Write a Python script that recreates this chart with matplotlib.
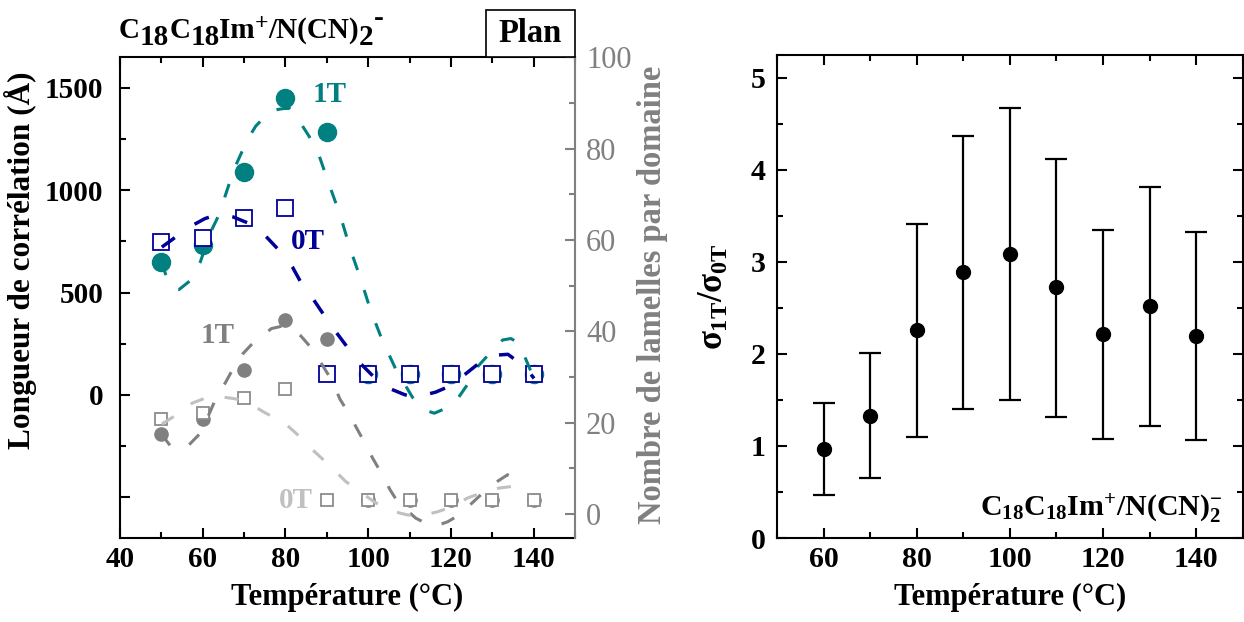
import matplotlib

matplotlib.use("Agg")
import matplotlib.pyplot as plt
from matplotlib.patches import Rectangle
from matplotlib.ticker import MultipleLocator

plt.rcParams["font.family"] = ["Liberation Serif", "DejaVu Serif"]
plt.rcParams["font.weight"] = "bold"
plt.rcParams["axes.labelweight"] = "bold"
plt.rcParams["mathtext.fontset"] = "custom"
plt.rcParams["mathtext.rm"] = "Liberation Serif:bold"
plt.rcParams["mathtext.bf"] = "Liberation Serif:bold"
plt.rcParams["mathtext.it"] = "Liberation Serif:bold"
plt.rcParams["axes.linewidth"] = 1.5

# --- left panel: correlation length (left axis) and lamellae count (right axis)
temps = [50, 60, 70, 80, 90, 100, 110, 120, 130, 140]
length_1T = [647, 732, 1091, 1453, 1285, 100, 100, 100, 100, 100]
length_0T = [746, 767, 864, 915, 100, 100, 100, 100, 100, 100]
lamellae_1T = [17.5, 20.7, 31.5, 42.4, 38.3, 3.1, 3.1, 3.1, 3.1, 3.1]
lamellae_0T = [20.7, 22.1, 25.3, 27.3, 3.1, 3.1, 3.1, 3.1, 3.1, 3.1]

# dashed guide curves
guide_1T_x = [50, 51, 52.5, 54.3, 56.9, 59.4, 61.9, 63.9, 66.3, 67.5, 70.8, 72.8,
              76.4, 79.5, 81.0, 83.6, 85.7, 88.2, 90.6, 93.2, 95.8, 98.2, 100.5,
              103.3, 106.7, 110.7, 113.9, 116.0, 118.4, 121.5, 124.4, 126.4,
              129.7, 132.5, 134.5, 136.5, 138.9, 140.1]
guide_1T_y = [650, 590, 520, 515, 557, 649, 795, 879, 1026, 1100, 1247, 1313,
              1389, 1399, 1400, 1330, 1264, 1165, 1026, 879, 705, 565, 418,
              272, 124, -12, -76, -90, -69, -23, 62, 136,
              210, 268, 275, 252, 136, 80]
guide_0T_x = [50.1, 53.1, 57.5, 60.5, 63.0, 65.0, 67.4, 72.0, 75.2, 79.3, 81.7, 84.1,
              86.5, 89.5, 91.8, 94.8, 97.3, 101.4, 104.3, 108.9, 111.5, 116.3,
              119.2, 123.6, 126.4, 131.1, 133.8, 138.2, 140.1]
guide_0T_y = [722, 766, 828, 861, 878, 880, 869, 831, 776, 688, 624, 536,
              474, 384, 318, 237, 170, 87, 38, 0, -12, 13,
              38, 103, 148, 194, 198, 131, 80]
guide_n1T_x = [50, 52.1, 54.0, 56.3, 59.1, 61.3, 63.4, 65.5, 67.5, 69.6, 72.3, 76.6,
               79.5, 81.5, 83.7, 86.5, 89.2, 91.3, 93.2, 95.0, 97.4, 99.4, 101.1,
               102.7, 105.3, 107.1, 111.5, 114.8, 117.0, 119.2, 122.0, 126.4,
               129.3, 133.7, 136.5]
guide_n1T_y = [17.5, 15.0, 14.3, 14.8, 17.4, 21.4, 25.8, 28.8, 32.1, 35.0, 37.6, 40.6,
               41.2, 40.5, 39.0, 36.1, 32.2, 29.1, 25.1, 22.5, 18.5, 15.2, 12.2,
               9.7, 5.3, 2.7, -0.9, -2.4, -2.4, -1.7, -0.2, 3.5,
               6.0, 8.6, 7.5]
guide_n0T_x = [50.1, 53.1, 57.5, 60.7, 65.0, 68.0, 72.4, 75.2, 79.7, 82.9, 86.5, 90.1,
               94.6, 97.4, 101.4, 104.7, 109.5, 112.7, 116.8, 119.6, 124.0, 127.3,
               131.7, 134.5]
guide_n0T_y = [19.7, 21.4, 24.3, 25.4, 25.6, 25.2, 23.6, 22.1, 20.0, 17.4, 14.1, 11.1,
               7.1, 5.3, 2.7, 0.9, -0.2, -0.4, 0.5, 1.4, 3.5, 4.6,
               5.7, 6.0]

# --- right panel: sigma ratio with asymmetric error bars
ratio_temps = [60, 70, 80, 90, 100, 110, 120, 130, 140]
ratio = [0.97, 1.33, 2.26, 2.89, 3.09, 2.73, 2.22, 2.52, 2.20]
ratio_low = [0.47, 0.65, 1.10, 1.40, 1.50, 1.32, 1.08, 1.22, 1.07]
ratio_high = [1.47, 2.01, 3.41, 4.37, 4.67, 4.12, 3.35, 3.81, 3.32]

# title pieces: (text, baseline shift in points, size)
title_parts = [("C", 0, 21), ("18", -5, 21), ("C", 0, 21), ("18", -5, 21),
               ("Im", 0, 21), ("+", 7, 17), ("/N(CN)", 0, 21), ("2", -5, 21),
               ("-", 9, 21)]

TEAL = "#008080"
BLUE = "#000099"
GRAY = "#808080"
GRAY_SQ = "#8c8c8c"
LIGHT = "#c0c0c0"
FS = 21
LFS = 22

fig = plt.figure(figsize=(12.44, 6.22), dpi=100)
ax = fig.add_axes([0.0965, 0.135, 0.3657, 0.773])
ax2 = ax.twinx()
axr = fig.add_axes([0.6246, 0.135, 0.3744, 0.777])

dash = (4.6, 6.9)

# left axis data
ax.plot(temps, length_1T, "o", color=TEAL, ms=13, zorder=2)
ax.plot(temps, length_0T, "s", mfc="white", mec=BLUE, mew=1.3, ms=11, zorder=3)
ax.plot(guide_1T_x, guide_1T_y, "--", color=TEAL, lw=2.2, dashes=dash, zorder=4)
ax.plot(guide_0T_x, guide_0T_y, "--", color=BLUE, lw=2.5, dashes=dash, zorder=4)

# right axis data
ax2.plot(temps, lamellae_1T, "o", color=GRAY, ms=9.5, zorder=2)
ax2.plot(temps, lamellae_0T, "s", mfc="white", mec=GRAY_SQ, mew=1.3, ms=8.5, zorder=3)
ax2.plot(guide_n1T_x, guide_n1T_y, "--", color=GRAY, lw=2.2, dashes=dash, zorder=4)
ax2.plot(guide_n0T_x, guide_n0T_y, "--", color=LIGHT, lw=2.2, dashes=dash, zorder=4)

ax.set_xlim(40, 150)
ax.set_ylim(-700, 1650)
ax2.set_ylim(-5.25, 100)

ax.xaxis.set_major_locator(MultipleLocator(20))
ax.xaxis.set_minor_locator(MultipleLocator(10))
ax.set_yticks([-500, 0, 500, 1000, 1500], ["", "0", "500", "1000", "1500"])
ax.yaxis.set_minor_locator(MultipleLocator(250))
ax.tick_params(which="both", direction="in", top=True, right=False, width=1.5,
               labelsize=FS)
ax.tick_params(which="major", length=7)
ax.tick_params(which="minor", length=4)
ax.tick_params(axis="x", pad=6)
ax.tick_params(axis="y", pad=12)

ax2.yaxis.set_major_locator(MultipleLocator(20))
ax2.yaxis.set_minor_locator(MultipleLocator(10))
ax2.tick_params(which="both", direction="in", color=GRAY, labelcolor=GRAY, width=1.5,
                labelsize=FS + 1, pad=8)
ax2.tick_params(which="major", length=7)
ax2.tick_params(which="minor", length=4)
for lab in ax2.get_yticklabels():
    lab.set_fontweight("normal")
for side in ("left", "top", "bottom"):
    ax2.spines[side].set_visible(False)
ax2.spines["right"].set_color(GRAY)
ax.spines["right"].set_visible(False)

ax.set_xlabel("Température (°C)", fontsize=LFS, labelpad=7)
ax.set_ylabel("Longueur de corrélation (Å)", fontsize=22.5)
ax.yaxis.set_label_coords(-0.182, 0.578)
ax2.set_ylabel("Nombre de lamelles par domaine", fontsize=23.5, color=GRAY)
ax2.yaxis.set_label_coords(1.136, 0.505)

ax.text(86.5, 1470, "1T", color=TEAL, fontsize=21, va="center")
ax.text(81.3, 747, "0T", color=BLUE, fontsize=21, va="center")
ax2.text(59.5, 39, "1T", color=GRAY, fontsize=21, va="center")
ax2.text(78.5, 2.9, "0T", color=LIGHT, fontsize=21, va="center")

# title with full-size shifted subscripts
first = fig.text(0.0956, 0.929, title_parts[0][0], fontsize=title_parts[0][2],
                 va="bottom", ha="left")
prev = first
for text, shift, size in title_parts[1:]:
    prev = ax.annotate(text, xy=(1, 0), xycoords=(prev, first), xytext=(0, shift),
                       textcoords="offset points", fontsize=size, va="bottom",
                       ha="left", annotation_clip=False)

fig.patches.append(Rectangle((0.3907, 0.9084), 0.0715, 0.0756, transform=fig.transFigure,
                             fc="white", ec="black", lw=1.2, figure=fig))
fig.text(0.3907 + 0.0715 / 2, 0.9084 + 0.0756 / 2, "Plan", fontsize=23.5, ha="center",
         va="center")

# right panel
axr.errorbar(ratio_temps, ratio,
             yerr=[[r - lo for r, lo in zip(ratio, ratio_low)],
                   [hi - r for r, hi in zip(ratio, ratio_high)]],
             fmt="o", color="black", ms=10, elinewidth=1.6, capsize=8, capthick=1.6)
axr.set_xlim(50, 150)
axr.set_ylim(0, 5.25)
axr.xaxis.set_major_locator(MultipleLocator(20))
axr.xaxis.set_minor_locator(MultipleLocator(10))
axr.yaxis.set_major_locator(MultipleLocator(1))
axr.yaxis.set_minor_locator(MultipleLocator(0.5))
axr.tick_params(which="both", direction="in", top=True, right=True, width=1.5,
                labelsize=FS + 0.5)
axr.tick_params(which="major", length=7)
axr.tick_params(which="minor", length=4)
axr.tick_params(axis="x", pad=6)
axr.tick_params(axis="y", pad=8)
axr.set_xlabel("Température (°C)", fontsize=LFS, labelpad=7)
axr.set_ylabel(r"$\sigma_{1T}/\sigma_{0T}$", fontsize=25)
axr.yaxis.set_label_coords(-0.10, 0.5)
axr.text(0.957, 0.045, r"$\mathbf{C_{18}C_{18}Im^{+}/N(CN)_{2}^{-}}$", fontsize=21.5,
         ha="right", va="baseline", transform=axr.transAxes)

fig.savefig("out.png", dpi=100)
